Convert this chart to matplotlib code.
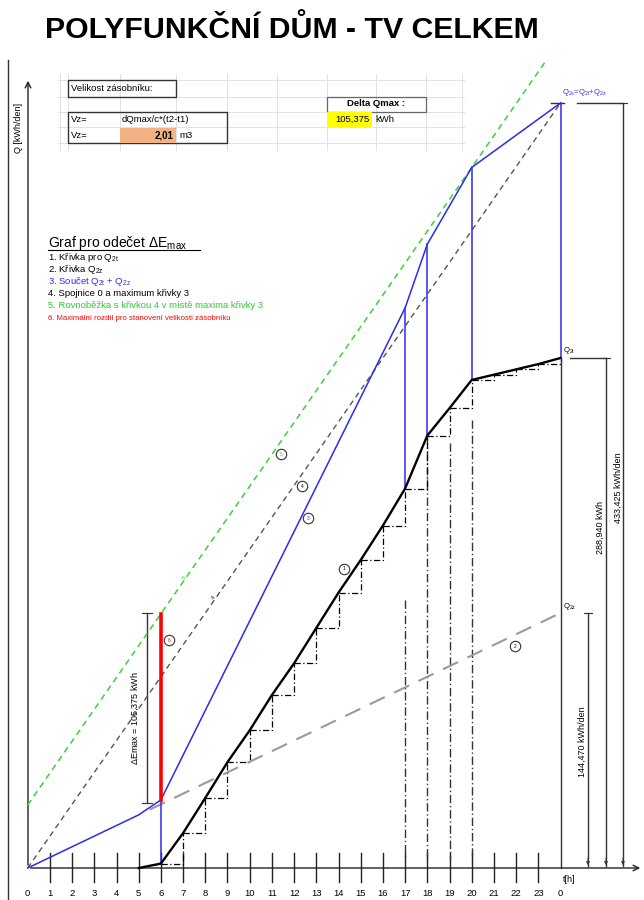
import matplotlib
matplotlib.use('Agg')
import matplotlib.pyplot as plt
import numpy as np

plt.rcParams['font.family'] = ['Liberation Sans', 'DejaVu Sans']
plt.rcParams['mathtext.fontset'] = 'custom'
plt.rcParams['mathtext.rm'] = 'Liberation Sans'
plt.rcParams['mathtext.it'] = 'Liberation Sans:italic'
plt.rcParams['mathtext.bf'] = 'Liberation Sans:bold'

# ---------------- data ----------------
hours = list(range(25))
# cumulative consumption Q2t (curve 1) read at each hour [kWh]
q2t = [0, 0, 0, 0, 0, 0, 2.5, 19.8, 39.7, 60.0, 78.0, 98.0, 116.0, 136.0,
       156.0, 174.5, 194.0, 215.0, 245.0, 260.5, 276.5, 279.5, 282.5, 285.5, 288.94]
# curve 3: sum Q2t + Q2z at its break points
sum_hours = [0, 5, 6, 17, 18, 20, 24]
q_sum = [0, 30.1, 38.6, 317.3, 353.4, 396.9, 433.425]
# curve 2: Q2z (straight line)
q2z_hours = [0, 24]
q2z = [0, 144.47]
step_hours = list(range(6, 24))
blue_vert_hours = [6, 17, 18, 20, 24]
constr_hours = [17, 18, 19, 20]
constr_top = [152.0, 245.0, 241.0, 254.0]
x_tick_labels = [str(h) for h in range(24)] + ['0']
q_total_lbl = '433,425 kWh/den'
q2t_lbl = '288,940 kWh'
q2z_lbl = '144,470 kWh/den'
demax_lbl = r'$\Delta$Emax = 105,375 kWh'

# ---------------- figure ----------------
fig = plt.figure(figsize=(6.44, 9.0), dpi=100)
axp = fig.add_axes([0, 0, 1, 1])
axp.set_xlim(0, 644); axp.set_ylim(900, 0); axp.axis('off')
ax = fig.add_axes([0, 0, 1, 1])
ax.axis('off'); ax.patch.set_alpha(0)
X0, XS = 27.7, 22.2
Y0, YS = 868.0, 1.765
ax.set_xlim(-X0 / XS, (644 - X0) / XS)
ax.set_ylim((Y0 - 900) / YS, Y0 / YS)


def px_line(xs, ys, **kw):
    axp.plot(xs, ys, clip_on=False, **kw)


# title
axp.text(292, 30, 'POLYFUNKČNÍ DŮM - TV CELKEM', ha='center', va='center',
         fontsize=21.8, fontweight='bold', color='black')

# spreadsheet-like grid
grid_x = [60, 68, 120, 176, 227, 277, 327, 376, 426, 462]
grid_y = [80, 97, 112, 127, 143]
for gx in grid_x:
    px_line([gx, gx], [74, 150], color='#e2e2e2', lw=0.7, zorder=0)
for gy in grid_y:
    px_line([58, 464], [gy, gy], color='#e2e2e2', lw=0.7, zorder=0)

axp.add_patch(plt.Rectangle((68, 80), 108, 17, fill=False, ec='#333333', lw=1.0))
axp.text(71, 88.5, 'Velikost zásobníku:', fontsize=6.8, va='center', ha='left')
axp.add_patch(plt.Rectangle((68, 112), 159, 31, fill=False, ec='#333333', lw=1.0))
axp.add_patch(plt.Rectangle((120, 127.5), 56, 15, fc='#F4B183', ec='none'))
axp.text(71, 120, 'Vz=', fontsize=6.8, va='center')
axp.text(122, 120, 'dQmax/c*(t2-t1)', fontsize=6.8, va='center')
axp.text(71, 135, 'Vz=', fontsize=6.8, va='center')
axp.text(174, 135, '2,01', fontsize=7, va='center', ha='right', fontweight='bold')
axp.text(179, 135, 'm3', fontsize=6.8, va='center')

axp.add_patch(plt.Rectangle((327, 96.5), 99, 15, fill=False, ec='#666666', lw=0.9))
axp.text(376.5, 104, 'Delta Qmax :', fontsize=6.8, va='center', ha='center', fontweight='bold')
axp.add_patch(plt.Rectangle((327, 112), 45, 15, fc='#FFFF00', ec='none'))
axp.text(370, 119.5, '105,375', fontsize=6.8, va='center', ha='right')
axp.text(375, 119.5, 'kWh', fontsize=6.8, va='center')

# legend text
axp.text(48, 243, r'Graf pro odečet $\Delta$E$_{\mathrm{max}}$', fontsize=10, va='center')
px_line([48, 200], [250, 250], color='black', lw=0.8)
leg = [
    ('1. Křivka pro Q$_{\\mathrm{2t}}$', 'black', 6.8),
    ('2. Křivka Q$_{\\mathrm{2z}}$', 'black', 6.8),
    ('3. Součet Q$_{\\mathrm{2t}}$ + Q$_{\\mathrm{2z}}$', '#2b2bff', 6.8),
    ('4. Spojnice 0 a maximum křivky 3', 'black', 6.8),
    ('5. Rovnoběžka s křivkou 4 v místě maxima křivky 3', '#2ecc2e', 6.8),
    ('6. Maximální rozdíl pro stanovení velikosti zásobníku', 'red', 5.6),
]
for i, (t, c, fs) in enumerate(leg):
    axp.text(48, 258 + 12 * i, t, fontsize=fs, color=c, va='center')

# axes / frame
px_line([8, 8], [60, 900], color='#333333', lw=1.0)
axp.annotate('', xy=(28, 78), xytext=(28, 868),
             arrowprops=dict(arrowstyle='->', color='#222222', lw=1.0))
axp.text(19, 128, 'Q [kWh/den]', rotation=90, fontsize=6.5, ha='center', va='center')
axp.annotate('', xy=(643, 868), xytext=(28, 868),
             arrowprops=dict(arrowstyle='->', color='#222222', lw=1.0))
for h in range(1, 24):
    ax.plot([h, h], [(Y0 - 853) / YS, (Y0 - 882) / YS], color='#222222', lw=1.0, clip_on=False)
for h, lab in zip(hours, x_tick_labels):
    ax.text(h, (Y0 - 893) / YS, lab, fontsize=6.8, ha='center', va='center')
axp.text(563, 880, 't[h]', fontsize=6.5, ha='left', va='center')

# construction verticals
for h, top in zip(constr_hours, constr_top):
    ax.plot([h, h], [top, (Y0 - 860) / YS], color='#333333', lw=1.0,
            ls=(0, (6, 2, 1, 2)))

# step lines (hourly increments)
for h in step_hours:
    ax.plot([h, h + 1, h + 1], [q2t[h], q2t[h], q2t[h + 1]], color='black',
            lw=0.9, ls=(0, (5, 2, 1, 2)))

# slope line 4 and parallel line 5
slope = q_sum[-1] / sum_hours[-1]
offset = max(np.array(q_sum) - slope * np.array(sum_hours))
ax.plot([0, 24], [0, q_sum[-1]], color='#555555', lw=1.0, ls=(0, (4, 3)))
ax.plot([0, 23.3], [offset, offset + slope * 23.3], color='#3ad13a', lw=1.1, ls=(0, (4, 3)))

# curve 2
z_start = 5.5
ax.plot([z_start, q2z_hours[-1]], [np.interp(z_start, q2z_hours, q2z), q2z[-1]],
        color='#9a9a9a', lw=1.5, ls=(0, (8, 5)))

# curve 3 (blue)
ax.plot(sum_hours, q_sum, color='#2b2bf0', lw=1.1)
for h in blue_vert_hours:
    ax.plot([h, h], [q2t[h], np.interp(h, sum_hours, q_sum)], color='#2b2bf0', lw=1.1)

# curve 1 (black)
ax.plot(hours[5:], q2t[5:], color='black', lw=1.7, solid_joinstyle='miter')
# continuation of hour-24 line down to the axis
ax.plot([24, 24], [0, q2t[-1]], color='#333333', lw=1.0)

# red max difference
ax.plot([6, 6], [q_sum[2], offset + slope * 6], color='red', lw=2.6, zorder=5)

# right-hand dimension lines
for xd, yt in [(588, 613), (606, 358), (623, 103)]:
    px_line([xd, xd], [yt, 866], color='#333333', lw=1.0)
    px_line([xd - 4, xd + 4], [yt, yt], color='#333333', lw=0.8)
    axp.annotate('', xy=(xd, 868), xytext=(xd, 855),
                 arrowprops=dict(arrowstyle='-|>', color='#333333', lw=0.6,
                                 mutation_scale=5))
px_line([577, 623], [103, 103], color='#333333', lw=1.0)
px_line([551, 564], [103, 103], color='#333333', lw=1.0)
px_line([570, 606], [358, 358], color='#333333', lw=1.0)
axp.text(562, 92, 'Q$_{\\mathrm{2s}}$=Q$_{\\mathrm{2t}}$+Q$_{\\mathrm{2z}}$', fontsize=5.5,
         color='#2b2bff', va='center')
axp.text(563, 350, 'Q$_{\\mathrm{2t}}$', fontsize=5.5, va='center')
axp.text(563, 607, 'Q$_{\\mathrm{2z}}$', fontsize=5.5, va='center')
axp.text(600, 528, q2t_lbl, rotation=90, fontsize=6.5, ha='center', va='center')
axp.text(618, 488, q_total_lbl, rotation=90, fontsize=6.5, ha='center', va='center')
axp.text(582, 742, q2z_lbl, rotation=90, fontsize=6.5, ha='center', va='center')

# Delta Emax dimension
px_line([147, 147], [613, 803], color='#333333', lw=1.0)
px_line([142, 152], [613, 613], color='#333333', lw=0.8)
px_line([142, 152], [803, 803], color='#333333', lw=0.8)
axp.text(135, 718, demax_lbl, rotation=90, fontsize=6.5, ha='center', va='center')

# circled numbers
circles = [(344, 569, '1', 'black'), (515, 646, '2', 'black'), (308, 518, '3', '#2b2bff'),
           (302, 486, '4', 'black'), (281, 454, '5', '#2ecc2e'), (169, 640, '6', 'red')]
for cx, cy, t, c in circles:
    axp.plot([cx], [cy], marker='o', ms=7.5, mfc='white', mec='#333333', mew=0.8,
             clip_on=False, zorder=6)
    axp.text(cx, cy, t, fontsize=3.5, color=c, ha='center', va='center', zorder=7)

axp.text(184, 578, '5', fontsize=4.5, color='#2ecc2e', rotation=55, ha='center', va='center')
axp.text(214, 598, '4', fontsize=4.5, color='#333333', rotation=55, ha='center', va='center')

fig.savefig('out.png', dpi=100)
